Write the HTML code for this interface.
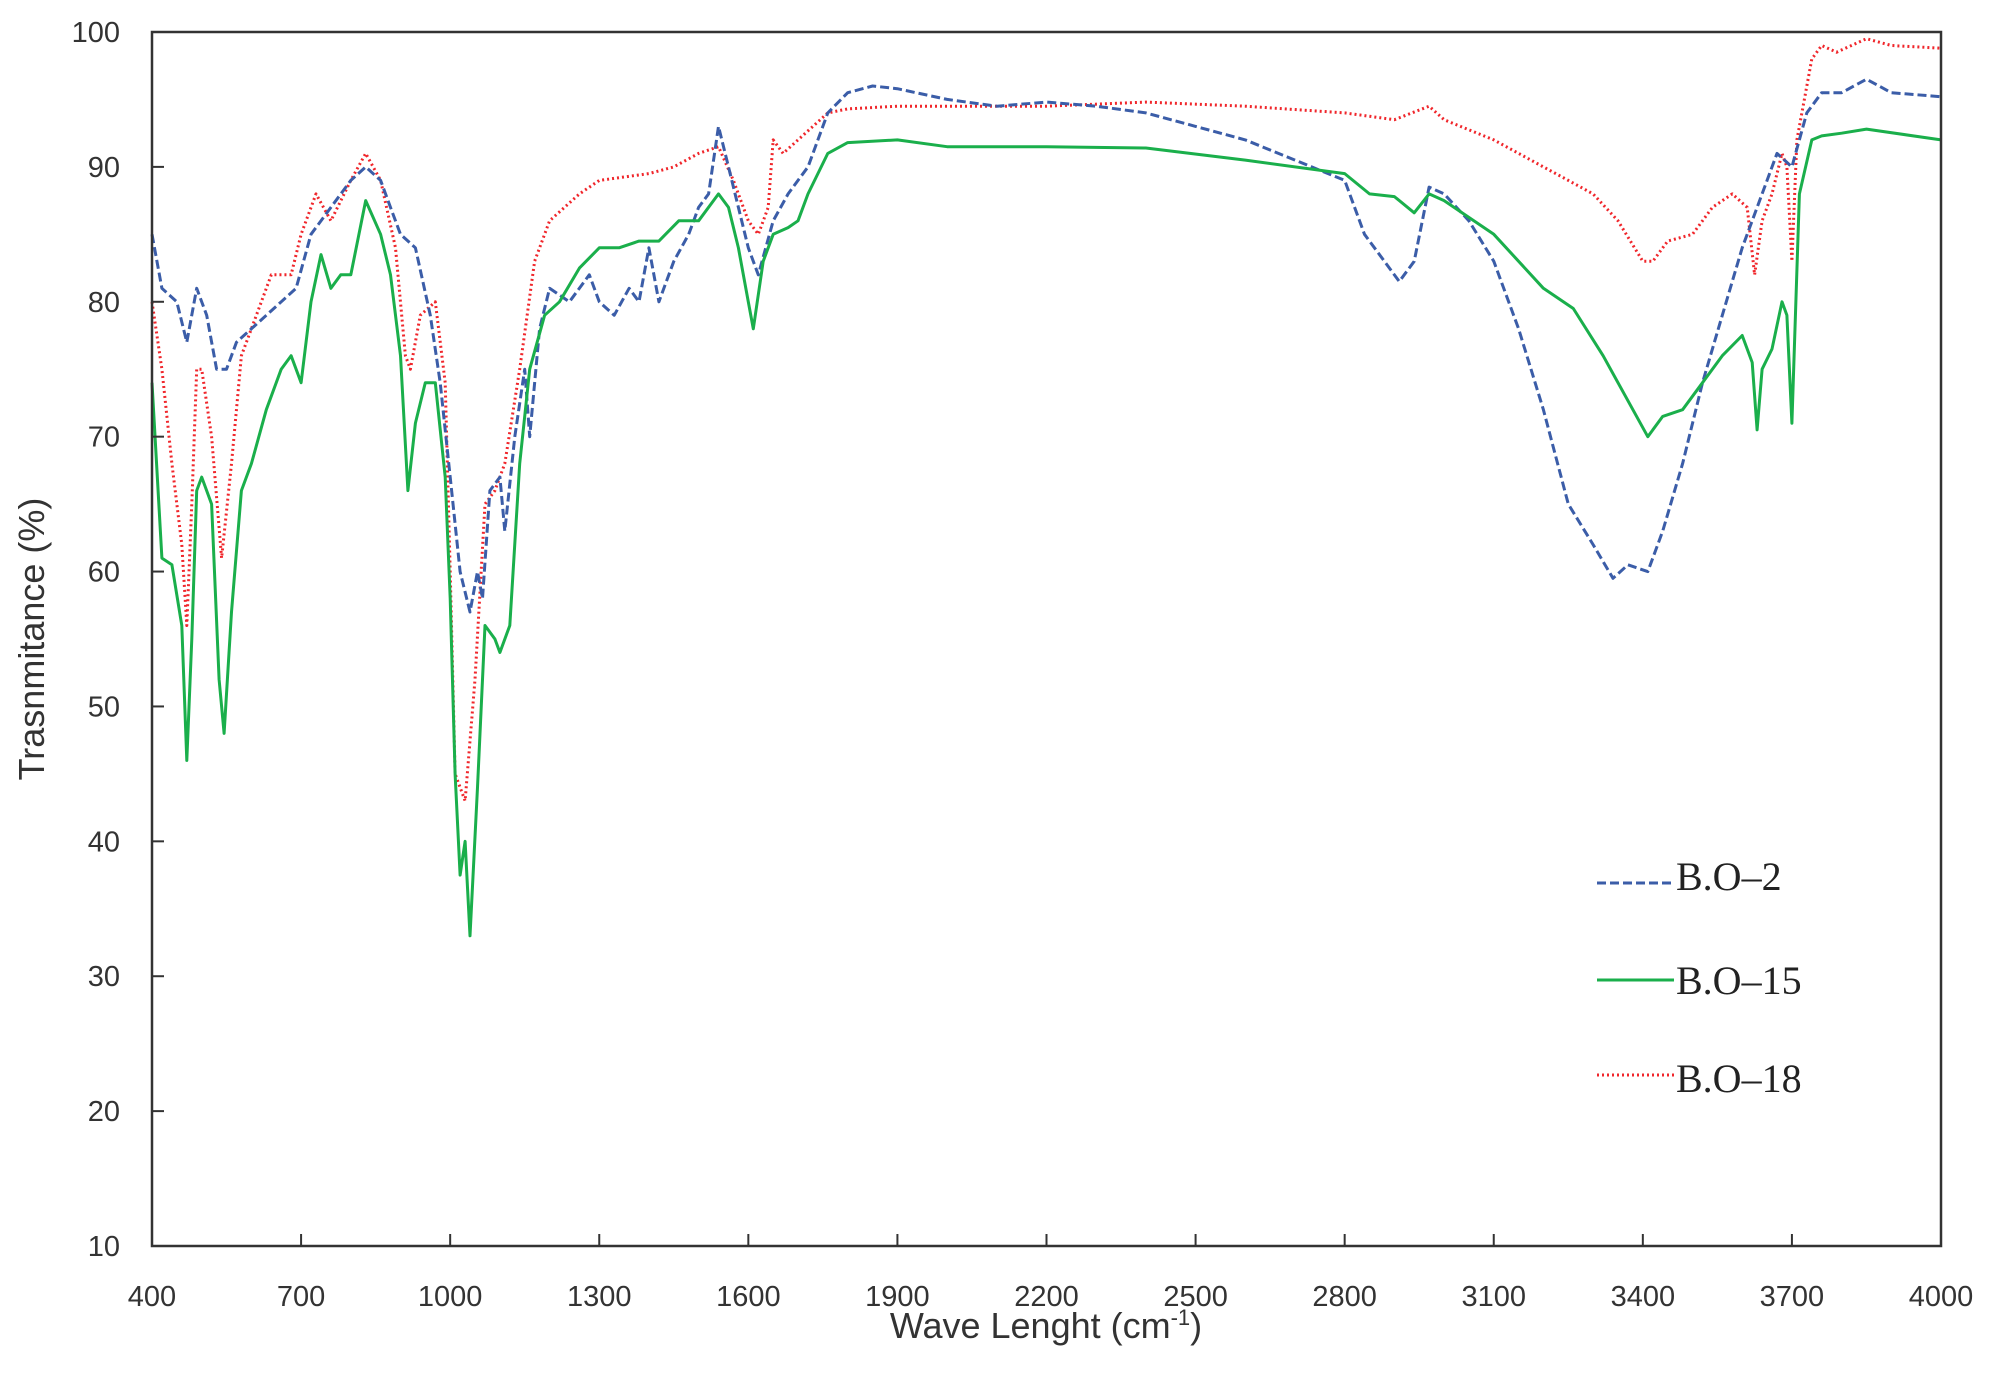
<!DOCTYPE html>
<html><head><meta charset="utf-8"><style>
html,body{margin:0;padding:0;background:#fff;}
svg{display:block;font-family:"Liberation Sans",sans-serif;}
</style></head><body>
<svg id="chart" width="1991" height="1400" viewBox="0 0 1991 1400" xmlns="http://www.w3.org/2000/svg">
<g id="grid"></g>
<g id="series"></g>
<rect x="152" y="32" width="1789" height="1214" fill="none" stroke="#333" stroke-width="2.5"/>
<g id="axes"></g>
<text x="1046" y="1338" font-size="36" text-anchor="middle" fill="#333">Wave Lenght (cm<tspan dy="-13" font-size="22">-1</tspan><tspan dy="13">)</tspan></text>
<text transform="translate(44,639) rotate(-90)" font-size="36" text-anchor="middle" fill="#333">Trasnmitance (%)</text>
<g font-family="'Liberation Serif',serif" font-size="40" fill="#222">
<line x1="1597" y1="883" x2="1674" y2="883" stroke="#3b5da8" stroke-width="3" stroke-dasharray="9,4"/>
<text x="1676" y="890">B.O–2</text>
<line x1="1597" y1="980" x2="1674" y2="980" stroke="#1aaf4b" stroke-width="3"/>
<text x="1676" y="994">B.O–15</text>
<line x1="1597" y1="1075" x2="1674" y2="1075" stroke="#f0262b" stroke-width="3" stroke-dasharray="2,3"/>
<text x="1676" y="1092">B.O–18</text>
</g>
</svg>
<script>
const xTicks = [400,700,1000,1300,1600,1900,2200,2500,2800,3100,3400,3700,4000];
const yTicks = [10,20,30,40,50,60,70,80,90,100];
const bo2X = [400,420,450,470,490,510,530,550,570,600,630,660,690,720,760,800,830,860,880,900,930,960,980,1000,1020,1040,1055,1065,1080,1100,1110,1130,1150,1160,1180,1200,1240,1280,1300,1330,1360,1380,1400,1420,1450,1480,1500,1520,1540,1560,1580,1600,1620,1650,1680,1700,1720,1760,1800,1850,1900,2000,2100,2200,2300,2400,2500,2600,2700,2800,2840,2880,2910,2940,2970,3000,3050,3100,3150,3200,3250,3300,3340,3370,3410,3440,3480,3520,3560,3600,3640,3670,3700,3730,3760,3800,3850,3900,4000];
const bo2Y = [85,81,80,77,81,79,75,75,77,78,79,80,81,85,87,89,90,89,87,85,84,79,74,67,60,57,60,58,66,67,63,70,75,70,78,81,80,82,80,79,81,80,84,80,83,85,87,88,93,90,87,84,82,86,88,89,90,94,95.5,96,95.8,95,94.5,94.8,94.5,94,93,92,90.5,89,85,83,81.5,83,88.5,88,86,83,78,72,65,62,59.5,60.5,60,63,68,74,79,84,88,91,90,94,95.5,95.5,96.5,95.5,95.2];
const bo15X = [400,420,440,460,470,480,490,500,520,535,545,560,580,600,630,660,680,700,720,740,760,780,800,830,860,880,900,915,930,950,970,990,1000,1010,1020,1030,1040,1055,1070,1090,1100,1120,1140,1160,1190,1220,1260,1300,1340,1380,1420,1460,1500,1540,1560,1580,1600,1610,1630,1650,1680,1700,1720,1760,1800,1900,2000,2200,2400,2600,2800,2850,2900,2940,2970,3000,3100,3200,3260,3320,3380,3410,3440,3480,3520,3560,3600,3620,3630,3640,3660,3680,3690,3700,3715,3740,3760,3800,3850,4000];
const bo15Y = [74,61,60.5,56,46,55,66,67,65,52,48,57,66,68,72,75,76,74,80,83.5,81,82,82,87.5,85,82,76,66,71,74,74,67,58,45,37.5,40,33,44,56,55,54,56,68,75,79,80,82.5,84,84,84.5,84.5,86,86,88,87,84,80,78,83,85,85.5,86,88,91,91.8,92,91.5,91.5,91.4,90.5,89.5,88,87.8,86.6,88,87.5,85,81,79.5,76,72,70,71.5,72,74,76,77.5,75.5,70.5,75,76.5,80,79,71,88,92,92.3,92.5,92.8,92];
const bo18X = [400,420,440,460,470,480,490,500,520,540,560,580,600,640,680,700,730,760,800,830,860,890,910,920,940,970,990,1000,1010,1030,1050,1070,1090,1110,1140,1170,1200,1260,1300,1400,1450,1500,1540,1570,1600,1620,1640,1650,1670,1700,1760,1800,1900,2000,2200,2400,2600,2800,2900,2970,3000,3100,3200,3250,3300,3350,3400,3420,3450,3500,3540,3580,3610,3625,3640,3660,3680,3690,3700,3710,3740,3760,3790,3850,3900,4000];
const bo18Y = [80,75,68,62,56,65,75,75,70,61,68,76,78,82,82,85,88,86,89,91,89,84,76,75,79,80,74,60,45,43,52,65,66,68,75,83,86,88,89,89.5,90,91,91.5,89,86,85,87,92,91,92,94,94.3,94.5,94.5,94.5,94.8,94.5,94,93.5,94.5,93.5,92,90,89,88,86,83,83,84.5,85,87,88,87,82,86,88,91,90,83,92,98,99,98.5,99.5,99,98.8];

const L=152,R=1941,T=32,B=1246;
function xs(v){return L+(v-400)/(4000-400)*(R-L);}
function ys(v){return B-(v-10)/(100-10)*(B-T);}
const NS="http://www.w3.org/2000/svg";
const axes=document.getElementById('axes');
xTicks.forEach(t=>{
  const l=document.createElementNS(NS,'line');
  
  
  l.setAttribute('x1',xs(t));l.setAttribute('x2',xs(t));l.setAttribute('y1',B);l.setAttribute('y2',B-12);
  l.setAttribute('stroke','#333');l.setAttribute('stroke-width','2');axes.appendChild(l);
  const tx=document.createElementNS(NS,'text');
  
  
  tx.setAttribute('x',xs(t));tx.setAttribute('y',1306);tx.setAttribute('font-size','29');
  tx.setAttribute('text-anchor','middle');tx.setAttribute('fill','#333');tx.textContent=t;axes.appendChild(tx);
});
yTicks.forEach(t=>{
  const l=document.createElementNS(NS,'line');
  
  
  l.setAttribute('x1',L);l.setAttribute('x2',L+12);l.setAttribute('y1',ys(t));l.setAttribute('y2',ys(t));
  l.setAttribute('stroke','#333');l.setAttribute('stroke-width','2');axes.appendChild(l);
  const tx=document.createElementNS(NS,'text');
  
  
  tx.setAttribute('x',120);tx.setAttribute('y',ys(t)+10);tx.setAttribute('font-size','29');
  tx.setAttribute('text-anchor','end');tx.setAttribute('fill','#333');tx.textContent=t;axes.appendChild(tx);
});
const ser=document.getElementById('series');
function draw(X,Y,color,dash,name){
  const p=document.createElementNS(NS,'path');
  
  
  p.setAttribute('d',X.map((x,i)=>(i?'L':'M')+xs(x).toFixed(1)+','+ys(Y[i]).toFixed(1)).join(''));
  p.setAttribute('fill','none');p.setAttribute('stroke',color);p.setAttribute('stroke-width','3');
  p.setAttribute('stroke-linejoin','round');
  if(dash)p.setAttribute('stroke-dasharray',dash);
  ser.appendChild(p);
}
draw(bo18X,bo18Y,'#f0262b','2,3','series-bo18');
draw(bo2X,bo2Y,'#3b5da8','9,4','series-bo2');
draw(bo15X,bo15Y,'#1aaf4b',null,'series-bo15');
</script>
</body></html>
